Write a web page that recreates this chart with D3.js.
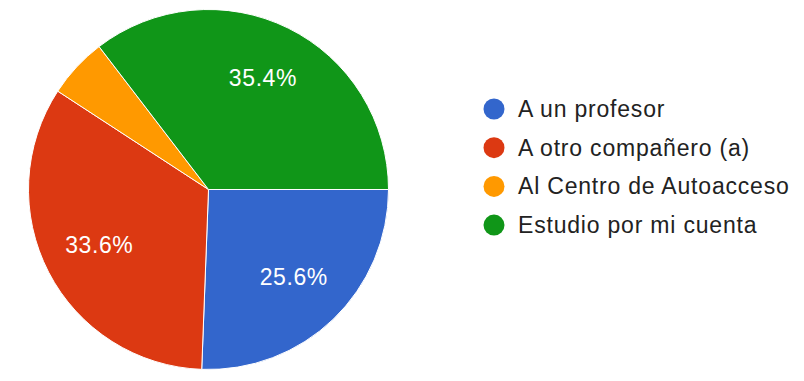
<!DOCTYPE html>
<html>
<head>
<meta charset="utf-8">
<script src="https://cdn.jsdelivr.net/npm/d3@7"></script>
<style>
  html, body { margin: 0; padding: 0; background: #ffffff; }
  svg { display: block; font-family: Arial, "Liberation Sans", sans-serif; }
</style>
</head>
<body>
<svg id="chart" width="804" height="381"></svg>
<script>
// Categories and their shares (percent)
const categories = ["A un profesor", "A otro compañero (a)", "Al Centro de Autoacceso", "Estudio por mi cuenta"];
const values = [25.6, 33.6, 5.4, 35.4];
const colors = ["#3366cc", "#dc3912", "#ff9900", "#109618"];

const svg = d3.select("#chart");
const cx = 208.5, cy = 189.5, radius = 180;

const pie = d3.pie().sort(null).value(d => d.value)
  .startAngle(Math.PI / 2).endAngle(Math.PI / 2 + 2 * Math.PI);
const data = categories.map((c, i) => ({ name: c, value: values[i], color: colors[i] }));
const arcs = pie(data);

const arc = d3.arc().innerRadius(0).outerRadius(radius);
const labelArc = d3.arc().innerRadius(123).outerRadius(123);

const g = svg.append("g").attr("transform", `translate(${cx},${cy})`);

g.selectAll("path.slice")
  .data(arcs)
  .join("path")
  .attr("class", "slice")
  .attr("d", arc)
  .attr("fill", d => d.data.color)
  .attr("stroke", "#ffffff")
  .attr("stroke-width", 1);

// Percentage labels on the larger slices
g.selectAll("text.pct")
  .data(arcs.filter(d => d.data.value >= 10))
  .join("text")
  .attr("class", "pct")
  .attr("transform", d => `translate(${labelArc.centroid(d)})`)
  .attr("text-anchor", "middle")
  .attr("dy", "0.3em")
  .attr("fill", "#ffffff")
  .attr("font-size", 23)
  .attr("letter-spacing", 0.6)
  .text(d => d.data.value.toFixed(1) + "%");

// Legend
const legend = svg.append("g").attr("transform", "translate(494,109)");
const item = legend.selectAll("g.item")
  .data(data)
  .join("g")
  .attr("class", "item")
  .attr("transform", (d, i) => `translate(0,${i * 38.7})`);

item.append("circle")
  .attr("r", 10.5)
  .attr("fill", d => d.color);

item.append("text")
  .attr("x", 24)
  .attr("y", 8)
  .attr("font-size", 23)
  .attr("letter-spacing", 0.8)
  .attr("fill", "#222222")
  .text(d => d.name);
</script>
</body>
</html>
